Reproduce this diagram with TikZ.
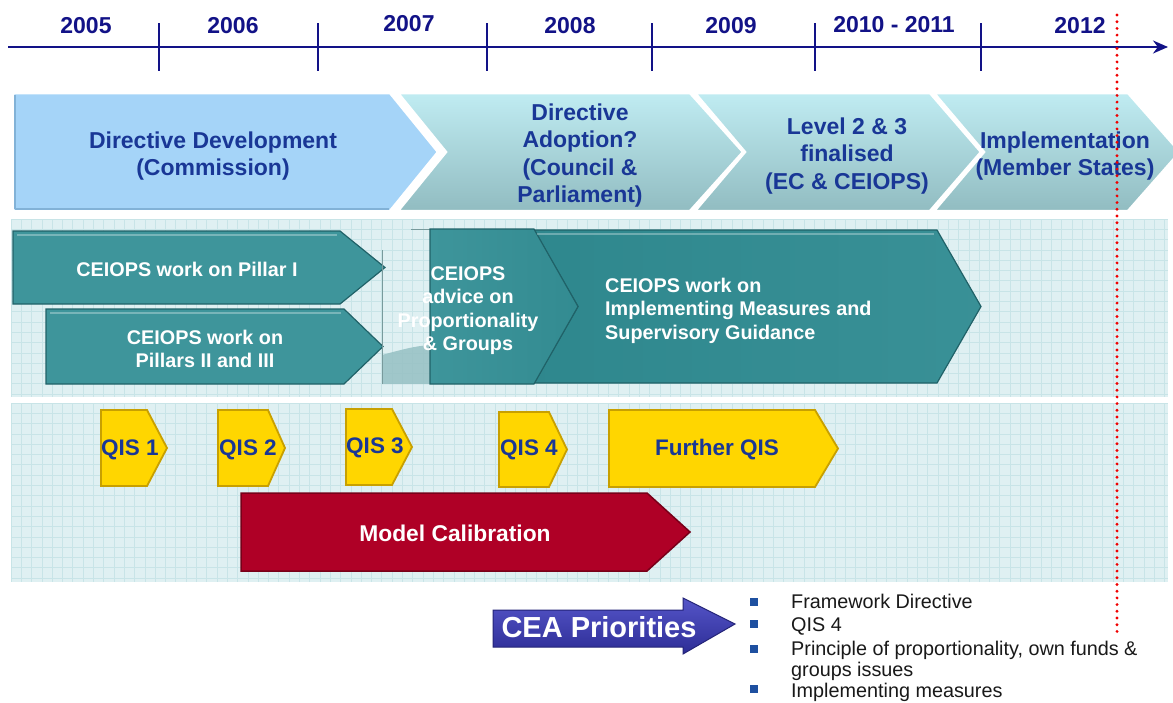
\documentclass[tikz,border=0pt]{standalone}
\usepackage{fontspec}
\setmainfont{Liberation Sans}
\usetikzlibrary{arrows.meta,shadings}

\definecolor{navy}{RGB}{18,18,135}
\definecolor{txtblue}{RGB}{25,55,150}
\definecolor{ddfill}{RGB}{165,212,248}
\definecolor{ddedge}{RGB}{130,178,215}
\definecolor{aqtop}{RGB}{192,236,242}
\definecolor{aqbot}{RGB}{145,188,193}
\definecolor{bandbg}{RGB}{223,240,242}
\definecolor{bandgrid}{RGB}{200,228,231}
\definecolor{tealf}{RGB}{62,149,155}
\definecolor{tealdk}{RGB}{45,134,140}
\definecolor{teale}{RGB}{32,98,104}
\definecolor{teallight}{RGB}{150,192,195}
\definecolor{impllight}{RGB}{118,168,170}
\definecolor{qisf}{RGB}{255,214,0}
\definecolor{qise}{RGB}{200,160,0}
\definecolor{calf}{RGB}{175,0,38}
\definecolor{cale}{RGB}{120,0,25}
\definecolor{ceatop}{RGB}{85,85,200}
\definecolor{ceabot}{RGB}{45,45,150}
\definecolor{bulletc}{RGB}{30,80,160}
\definecolor{dotred}{RGB}{240,0,0}

\pgfdeclarehorizontalshading{implshade}{100bp}{color(0bp)=(impllight); color(18bp)=(tealdk); color(100bp)=(tealf)}
\pgfdeclarehorizontalshading{advshade}{100bp}{color(0bp)=(teallight); color(25bp)=(tealf); color(100bp)=(tealdk)}

% #2 left x, #3 top y, #4 body end x, #5 tip x, #6 bottom y, #7 notch x
\newcommand{\chevshape}[7][]{%
  \path[#1] (#2,#3) -- (#4,#3) -- (#5,{(#3+#6)/2}) -- (#4,#6) -- (#2,#6) -- (#7,{(#3+#6)/2}) -- cycle;}

\begin{document}
\begin{tikzpicture}[x=1pt,y=-1pt,
  yearlbl/.style={font=\fontsize{23}{27}\selectfont\bfseries, text=navy, inner sep=0},
  toptxt/.style={font=\fontsize{23}{27.5}\selectfont\bfseries, text=txtblue, align=center, inner sep=0},
  midtxt/.style={font=\fontsize{19.8}{23.5}\selectfont\bfseries, text=white, align=center, inner sep=0},
  qistxt/.style={font=\fontsize{22.5}{26}\selectfont\bfseries, text=txtblue, inner sep=0},
  caltxt/.style={font=\fontsize{22.8}{26}\selectfont\bfseries, text=white, inner sep=0},
  ceatxt/.style={font=\fontsize{29}{32}\selectfont\bfseries, text=white, inner sep=0},
  listtxt/.style={font=\fontsize{19.8}{21}\selectfont, text=black!90, inner sep=0, align=left},
  bulletbox/.style={fill=bulletc, minimum size=8.5pt, inner sep=0},
  topchev/.style={draw=white, line width=2.5},
  tealchev/.style={fill=tealf, draw=teale, line width=1.2},
  qischev/.style={fill=qisf, draw=qise, line width=1.8},
  calchev/.style={fill=calf, draw=cale, line width=1.5},
  gridln/.style={bandgrid, line width=0.8}
]
\useasboundingbox (0,0) rectangle (1173,702);
\fill[white] (0,0) rectangle (1173,702);

% ---------- timeline ----------
\coordinate (tlstart) at (8,47);
\coordinate (tlend) at (1168,47);
\draw[navy, line width=2, -{Stealth[length=15pt,width=13pt]}] (tlstart) -- (tlend);
\foreach \x in {159,318,487,652,815,981}
  \draw[navy, line width=1.6] (\x,23) -- (\x,71);
\node[yearlbl] (y2005) at (86,26) {2005};
\node[yearlbl] (y2006) at (233,26) {2006};
\node[yearlbl] (y2007) at (409,24) {2007};
\node[yearlbl] (y2008) at (570,26) {2008};
\node[yearlbl] (y2009) at (731,26) {2009};
\node[yearlbl] (y2010) at (894,25) {2010 - 2011};
\node[yearlbl] (y2012) at (1080,26) {2012};

% ---------- grid bands ----------
\fill[bandbg] (11,219) rectangle (1168,397);
\fill[bandbg] (11,403) rectangle (1168,582);
\begin{scope}
  \clip (11,219) rectangle (1168,397);
  \foreach \i in {0,...,113} \draw[gridln] ({11+10.3*\i},219) -- ({11+10.3*\i},397);
  \foreach \j in {0,...,18} \draw[gridln] (11,{219+10.3*\j}) -- (1168,{219+10.3*\j});
\end{scope}
\begin{scope}
  \clip (11,403) rectangle (1168,582);
  \foreach \i in {0,...,113} \draw[gridln] ({11+10.3*\i},403) -- ({11+10.3*\i},582);
  \foreach \j in {0,...,18} \draw[gridln] (11,{403+10.3*\j}) -- (1168,{403+10.3*\j});
\end{scope}

% ---------- top row ----------
\chevshape[topchev, fill=ddfill]{13}{93}{390}{438}{211}{13}
\draw[ddedge, line width=1.5] (15,209) -- (15,95);
\draw[ddedge, line width=1.5] (15,209) -- (389,209);
\chevshape[topchev, top color=aqtop, bottom color=aqbot]{398}{93}{690}{743}{211}{446}
\chevshape[topchev, top color=aqtop, bottom color=aqbot]{695}{93}{930}{981}{211}{745}
\chevshape[topchev, top color=aqtop, bottom color=aqbot]{934}{93}{1128}{1180}{211}{984}

% ---------- CEIOPS band ----------
\chevshape[tealchev]{13}{231}{340}{385}{304}{13}
\chevshape[tealchev]{46}{309}{344}{383}{384}{46}
\chevshape[shading=implshade, draw=teale, line width=1.2]{534}{230}{937}{981}{383}{578}
\fill[teallight, opacity=0.85] (382,355) .. controls (400,350) and (415,346) .. (430,345) -- (430,384) -- (382,384) -- cycle;
\draw[teallight!80!black, line width=0.8] (382,250) -- (382,384);
\draw[teallight!80!black, line width=0.8] (411,229) -- (430,229);
\chevshape[shading=advshade, draw=teale, line width=1.2]{430}{229}{534}{578}{384}{430}
\draw[white, opacity=0.3, line width=2] (17,235) -- (337,235);
\draw[white, opacity=0.3, line width=2] (50,313) -- (341,313);
\draw[white, opacity=0.3, line width=2] (537,234) -- (934,234);

% ---------- QIS band ----------
\chevshape[qischev]{101}{410}{147}{167}{486}{101}
\chevshape[qischev]{218}{410}{268}{285}{486}{218}
\chevshape[qischev]{346}{409}{392}{412}{485}{346}
\chevshape[qischev]{499}{412}{549}{567}{487}{499}
\chevshape[qischev]{609}{410}{815}{838}{487}{609}
\chevshape[calchev]{241}{493}{647}{690}{571}{241}

% ---------- CEA arrow ----------
\path[top color=ceatop, bottom color=ceabot, draw=ceabot!80!black, line width=1]
  (493,610) -- (683,610) -- (683,598) -- (735,624) -- (683,654) -- (683,647) -- (493,647) -- cycle;

% ---------- texts ----------
\node[toptxt] (dd) at (213,156) {Directive Development\\(Commission)};
\node[toptxt] (adopt) at (580,155.5) {Directive\\Adoption?\\(Council \&\\Parliament)};
\node[toptxt] (lvl) at (847,156) {Level 2 \& 3\\finalised\\(EC \& CEIOPS)};
\node[toptxt] (implst) at (1065,156) {Implementation\\(Member States)};

\node[midtxt] (p1) at (187,269) {CEIOPS work on Pillar I};
\node[midtxt] (p23) at (205,349) {CEIOPS work on\\Pillars II and III};
\node[midtxt] (adv) at (468,310.5) {CEIOPS\\advice on\\Proportionality\\\& Groups};
\node[midtxt, align=left, anchor=west] (imp) at (605,310.5) {CEIOPS work on\\Implementing Measures and\\Supervisory Guidance};

\node[qistxt] (q1) at (130,450) {QIS 1};
\node[qistxt] (q2) at (248,450) {QIS 2};
\node[qistxt] (q3) at (375,448) {QIS 3};
\node[qistxt] (q4) at (529,450) {QIS 4};
\node[qistxt] (qf) at (717,450) {Further QIS};
\node[caltxt] (cal) at (455,533) {Model Calibration};

\node[ceatxt] (cea) at (599,627) {CEA Priorities};

\node[bulletbox] (b1) at (754,602) {};
\node[bulletbox] (b2) at (754,624) {};
\node[bulletbox] (b3) at (754,649) {};
\node[bulletbox] (b4) at (754,689) {};
\node[listtxt, anchor=base west] (l1) at (791,608) {Framework Directive};
\node[listtxt, anchor=base west] (l2) at (791,631) {QIS 4};
\node[listtxt, anchor=west] (l3) at (791,661) {Principle of proportionality, own funds \&\\groups issues};
\node[listtxt, anchor=base west] (l4) at (791,697.5) {Implementing measures};

% ---------- red dotted marker ----------
\coordinate (dtop) at (1117,15);
\coordinate (dbot) at (1117,632);
\draw[dotred, line width=3.2, line cap=round, dash pattern=on 0pt off 6.7pt] (dtop) -- (dbot);
\end{tikzpicture}
\end{document}
